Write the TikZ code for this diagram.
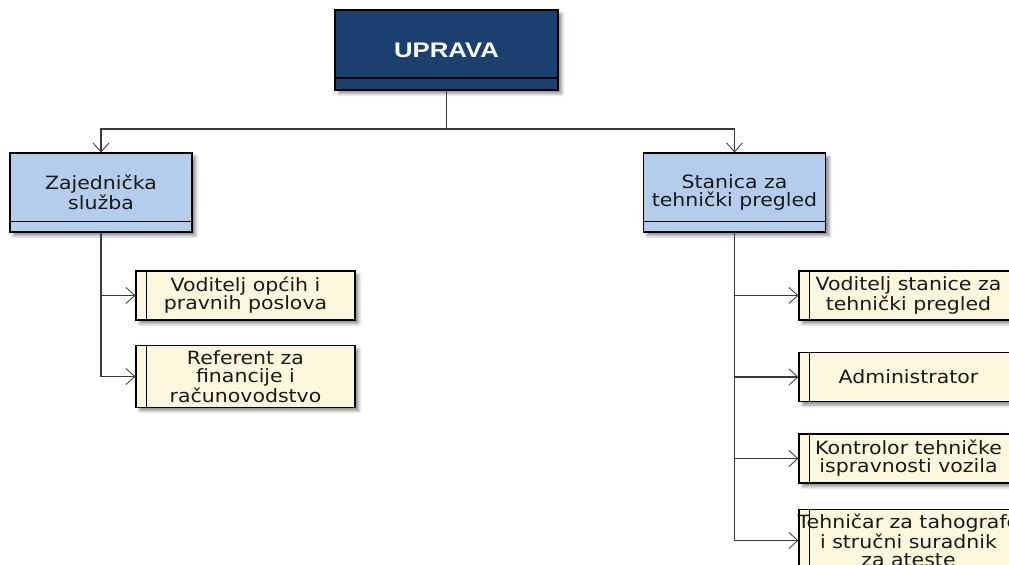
\documentclass[tikz,border=0pt]{standalone}
\usepackage{fontspec}
\setmainfont{DejaVu Sans}[FakeStretch=1.12]
\newfontfamily\headfont{Liberation Sans}[FakeStretch=1.22]
\usetikzlibrary{arrows.meta,shadows.blur}
\definecolor{headblue}{HTML}{1B3F6E}
\definecolor{unitblue}{HTML}{B4CDEC}
\definecolor{postcream}{HTML}{FDF8DD}
\definecolor{linegray}{HTML}{3A3A3A}
\tikzset{
  box/.style={draw=black, line width=0.8pt, align=center, text=black!90,
    font=\fontsize{13}{12.8}\selectfont,
    blur shadow={shadow xshift=0.09cm, shadow yshift=-0.09cm, shadow opacity=45}},
  head/.style={box, fill=headblue, text=white, font=\headfont\bfseries\fontsize{15}{15}\selectfont,
    minimum width=5.575cm, minimum height=2cm,
    path picture={\draw[line width=0.8pt] ([yshift=0.3cm]path picture bounding box.south west) -- ([yshift=0.3cm]path picture bounding box.south east);}},
  unit/.style={box, fill=unitblue, minimum width=4.55cm, minimum height=1.975cm,
    path picture={\draw[line width=0.8pt] ([yshift=0.27cm]path picture bounding box.south west) -- ([yshift=0.27cm]path picture bounding box.south east);}},
  post/.style={box, fill=postcream, minimum width=5.475cm, minimum height=1.225cm,
    path picture={\draw[line width=0.8pt] ([xshift=0.26cm]path picture bounding box.south west) -- ([xshift=0.26cm]path picture bounding box.north west);}},
  link/.style={draw=linegray, line width=0.8pt, -{Straight Barb[length=0.22cm, width=0.4cm, line width=0.6pt]}}
}
\begin{document}
\begin{tikzpicture}[x=0.025cm, y=-0.025cm]
\useasboundingbox (0,0) rectangle (1009,565);
\clip (0,0) rectangle (1009,565);
\node[head] (U) at (446.5,50) {UPRAVA};
\node[unit] (Z) at (101,192.5) {Zajednička\\služba};
\node[unit] (S) at (734.5,192.5) {Stanica za\\tehnički pregled};
\node[post] (Z1) at (245.5,295.5) {Voditelj općih i\\pravnih poslova};
\node[post] (Z2) at (245.5,376.5) {Referent za\\financije i\\računovodstvo};
\node[post] (S1) at (908.5,295.5) {Voditelj stanice za\\tehnički pregled};
\node[post] (S2) at (908.5,377) {Administrator};
\node[post] (S3) at (908.5,458.5) {Kontrolor tehničke\\ispravnosti vozila};
\node[post] (S4) at (908.5,540.5) {\makebox[4.9cm]{Tehničar za tahografe}\\i stručni suradnik\\za ateste};
\coordinate (J) at (446.5,129);
\draw[draw=linegray, line width=0.8pt] (U.south) -- (J);
\draw[link] (J) -| (Z.north);
\draw[link] (J) -| (S.north);
\draw[link] (Z.south) |- (Z1.west);
\draw[link] (Z.south) |- (Z2.west);
\draw[link] (S.south) |- (S1.west);
\draw[link] (S.south) |- (S2.west);
\draw[link] (S.south) |- (S3.west);
\draw[link] (S.south) |- (S4.west);
\end{tikzpicture}
\end{document}
